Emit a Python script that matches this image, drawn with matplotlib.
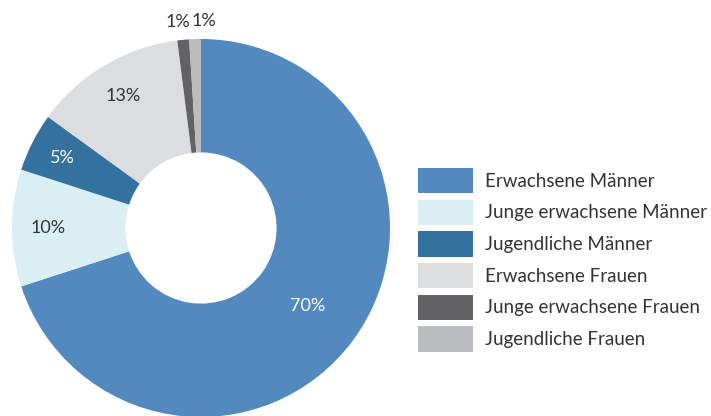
import matplotlib.pyplot as plt
import numpy as np

plt.rcParams['font.family'] = ['Lato', 'DejaVu Sans']

kategorien = ["Erwachsene Männer", "Junge erwachsene Männer", "Jugendliche Männer",
              "Erwachsene Frauen", "Junge erwachsene Frauen", "Jugendliche Frauen"]
anteile = [70, 10, 5, 13, 1, 1]
farben = ["#5289bf", "#daeff3", "#33719f", "#dcdddf", "#626265", "#bbbcbf"]
textfarben = ["white", "#333333", "white", "#333333", "#333333", "#333333"]

fig = plt.figure(figsize=(7.11, 4.16), dpi=100)
ax = fig.add_axes([12 / 711, -1 / 416, 378 / 711, 378 / 416])

wedges, _ = ax.pie(anteile, colors=farben, startangle=90, counterclock=False,
                   radius=1.0, wedgeprops=dict(width=0.6, linewidth=0))
ax.set_xlim(-1, 1)
ax.set_ylim(-1, 1)
ax.set_aspect('equal')
ax.axis('off')

# Prozentwerte: innen im Ring, die kleinen Anteile außerhalb
abstand = [0.70, 0.81, 0.82, 0.81, 1.095, 1.095]
versatz = [0, 0, 0, 0, -0.02, 0.05]
for w, wert, r, dx, tc in zip(wedges, anteile, abstand, versatz, textfarben):
    mitte = np.deg2rad((w.theta1 + w.theta2) / 2)
    ax.text(r * np.cos(mitte) + dx, r * np.sin(mitte), f"{wert}%",
            ha='center', va='center', fontsize=13, color=tc, clip_on=False)

fig.legend(wedges, kategorien, loc='upper left',
           bbox_to_anchor=(418 / 711, 1 - 168 / 416), frameon=False,
           fontsize=13.5, handlelength=2.95, handleheight=1.7,
           labelspacing=0.34, handletextpad=0.62, borderpad=0, borderaxespad=0,
           labelcolor="#333333")

fig.savefig("out.png", dpi=100)
